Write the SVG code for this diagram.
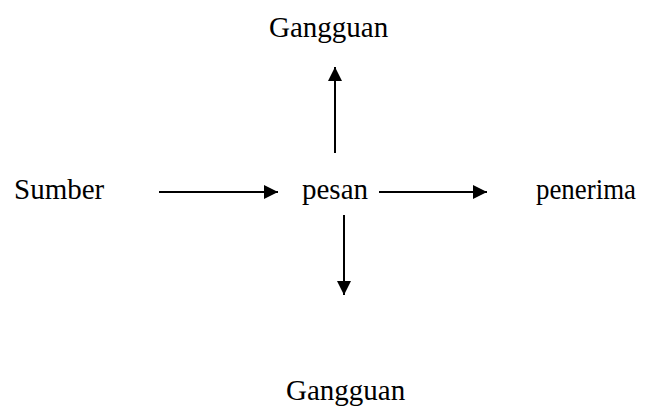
<svg xmlns="http://www.w3.org/2000/svg" width="649" height="412" viewBox="0 0 649 412">
<style>
.t{font-family:'Liberation Serif','DejaVu Serif',serif;font-size:29px;fill:#000}
.c{stroke:#000;stroke-width:2;fill:none}
</style>
<defs>
<marker id="ah" markerUnits="userSpaceOnUse" markerWidth="15" markerHeight="15" refX="14" refY="7" orient="auto">
<path d="M0,0 L14,7 L0,14 z" fill="#000"/>
</marker>
</defs>
<rect width="649" height="412" fill="#fff"/>
<g id="connectors">
<line class="c" x1="159" y1="192" x2="278" y2="192" marker-end="url(#ah)"/>
<line class="c" x1="379" y1="192" x2="487" y2="192" marker-end="url(#ah)"/>
<line class="c" x1="335" y1="153" x2="335" y2="67" marker-end="url(#ah)"/>
<line class="c" x1="344" y1="215" x2="344" y2="295" marker-end="url(#ah)"/>
</g>
<g id="gangguan-top"><text class="t" x="269" y="37">Gangguan</text></g>
<g id="sumber"><text class="t" x="14" y="199">Sumber</text></g>
<g id="pesan"><text class="t" x="302" y="199">pesan</text></g>
<g id="penerima"><text class="t" x="536" y="199" textLength="100" lengthAdjust="spacingAndGlyphs">penerima</text></g>
<g id="gangguan-bottom"><text class="t" x="286" y="400">Gangguan</text></g>
</svg>
